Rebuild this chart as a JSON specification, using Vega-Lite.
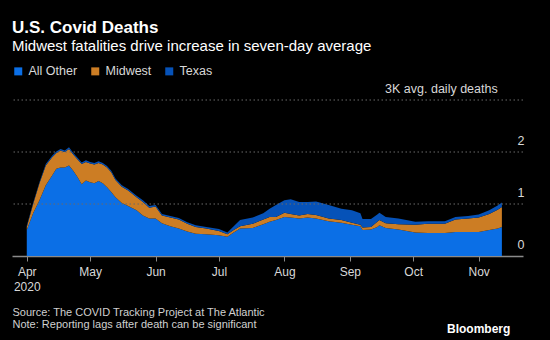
{
  "$schema": "https://vega.github.io/schema/vega-lite/v6.json",
  "width": 511,
  "height": 156,
  "autosize": {"type": "none"},
  "padding": {"left": 12, "top": 100, "right": 27, "bottom": 84},
  "background": "#000000",
  "config": {
    "view": {"stroke": null},
    "font": "Liberation Sans"
  },
  "title": {
    "text": "U.S. Covid Deaths",
    "subtitle": "Midwest fatalities drive increase in seven-day average",
    "anchor": "start",
    "frame": "group",
    "color": "#ffffff",
    "subtitleColor": "#ffffff",
    "fontSize": 17,
    "fontWeight": "bold",
    "subtitleFontSize": 15,
    "subtitlePadding": 2,
    "offset": 10
  },
  "data": {
    "values": [
      {"date": "2020-04-01", "All Other": 0.50, "Midwest": 0.06, "Texas": 0.02},
      {"date": "2020-04-04", "All Other": 0.82, "Midwest": 0.18, "Texas": 0.02},
      {"date": "2020-04-07", "All Other": 1.07, "Midwest": 0.33, "Texas": 0.02},
      {"date": "2020-04-10", "All Other": 1.36, "Midwest": 0.38, "Texas": 0.03},
      {"date": "2020-04-13", "All Other": 1.55, "Midwest": 0.35, "Texas": 0.03},
      {"date": "2020-04-15", "All Other": 1.68, "Midwest": 0.30, "Texas": 0.03},
      {"date": "2020-04-17", "All Other": 1.70, "Midwest": 0.33, "Texas": 0.03},
      {"date": "2020-04-19", "All Other": 1.70, "Midwest": 0.30, "Texas": 0.03},
      {"date": "2020-04-21", "All Other": 1.74, "Midwest": 0.32, "Texas": 0.03},
      {"date": "2020-04-23", "All Other": 1.64, "Midwest": 0.31, "Texas": 0.03},
      {"date": "2020-04-25", "All Other": 1.52, "Midwest": 0.34, "Texas": 0.03},
      {"date": "2020-04-27", "All Other": 1.38, "Midwest": 0.39, "Texas": 0.03},
      {"date": "2020-04-29", "All Other": 1.45, "Midwest": 0.36, "Texas": 0.03},
      {"date": "2020-05-01", "All Other": 1.42, "Midwest": 0.36, "Texas": 0.03},
      {"date": "2020-05-03", "All Other": 1.40, "Midwest": 0.36, "Texas": 0.03},
      {"date": "2020-05-05", "All Other": 1.44, "Midwest": 0.35, "Texas": 0.03},
      {"date": "2020-05-07", "All Other": 1.40, "Midwest": 0.36, "Texas": 0.03},
      {"date": "2020-05-09", "All Other": 1.32, "Midwest": 0.38, "Texas": 0.03},
      {"date": "2020-05-11", "All Other": 1.23, "Midwest": 0.38, "Texas": 0.03},
      {"date": "2020-05-13", "All Other": 1.13, "Midwest": 0.33, "Texas": 0.03},
      {"date": "2020-05-16", "All Other": 1.02, "Midwest": 0.31, "Texas": 0.03},
      {"date": "2020-05-19", "All Other": 0.96, "Midwest": 0.30, "Texas": 0.03},
      {"date": "2020-05-23", "All Other": 0.88, "Midwest": 0.25, "Texas": 0.03},
      {"date": "2020-05-26", "All Other": 0.78, "Midwest": 0.26, "Texas": 0.03},
      {"date": "2020-05-29", "All Other": 0.72, "Midwest": 0.21, "Texas": 0.03},
      {"date": "2020-06-01", "All Other": 0.72, "Midwest": 0.23, "Texas": 0.03},
      {"date": "2020-06-04", "All Other": 0.63, "Midwest": 0.15, "Texas": 0.03},
      {"date": "2020-06-08", "All Other": 0.57, "Midwest": 0.17, "Texas": 0.03},
      {"date": "2020-06-12", "All Other": 0.53, "Midwest": 0.17, "Texas": 0.03},
      {"date": "2020-06-16", "All Other": 0.47, "Midwest": 0.15, "Texas": 0.03},
      {"date": "2020-06-20", "All Other": 0.43, "Midwest": 0.13, "Texas": 0.03},
      {"date": "2020-06-25", "All Other": 0.42, "Midwest": 0.11, "Texas": 0.03},
      {"date": "2020-07-01", "All Other": 0.40, "Midwest": 0.08, "Texas": 0.04},
      {"date": "2020-07-05", "All Other": 0.37, "Midwest": 0.05, "Texas": 0.03},
      {"date": "2020-07-08", "All Other": 0.45, "Midwest": 0.05, "Texas": 0.07},
      {"date": "2020-07-11", "All Other": 0.53, "Midwest": 0.04, "Texas": 0.12},
      {"date": "2020-07-17", "All Other": 0.54, "Midwest": 0.08, "Texas": 0.12},
      {"date": "2020-07-22", "All Other": 0.61, "Midwest": 0.09, "Texas": 0.12},
      {"date": "2020-07-25", "All Other": 0.66, "Midwest": 0.09, "Texas": 0.16},
      {"date": "2020-07-28", "All Other": 0.69, "Midwest": 0.06, "Texas": 0.23},
      {"date": "2020-08-01", "All Other": 0.75, "Midwest": 0.08, "Texas": 0.24},
      {"date": "2020-08-04", "All Other": 0.74, "Midwest": 0.07, "Texas": 0.28},
      {"date": "2020-08-08", "All Other": 0.72, "Midwest": 0.06, "Texas": 0.26},
      {"date": "2020-08-12", "All Other": 0.74, "Midwest": 0.07, "Texas": 0.23},
      {"date": "2020-08-16", "All Other": 0.72, "Midwest": 0.07, "Texas": 0.26},
      {"date": "2020-08-22", "All Other": 0.67, "Midwest": 0.05, "Texas": 0.26},
      {"date": "2020-08-28", "All Other": 0.64, "Midwest": 0.05, "Texas": 0.22},
      {"date": "2020-09-02", "All Other": 0.60, "Midwest": 0.04, "Texas": 0.24},
      {"date": "2020-09-06", "All Other": 0.57, "Midwest": 0.03, "Texas": 0.22},
      {"date": "2020-09-07", "All Other": 0.50, "Midwest": 0.05, "Texas": 0.16},
      {"date": "2020-09-11", "All Other": 0.51, "Midwest": 0.05, "Texas": 0.15},
      {"date": "2020-09-14", "All Other": 0.56, "Midwest": 0.10, "Texas": 0.14},
      {"date": "2020-09-15", "All Other": 0.59, "Midwest": 0.10, "Texas": 0.14},
      {"date": "2020-09-18", "All Other": 0.54, "Midwest": 0.09, "Texas": 0.12},
      {"date": "2020-09-24", "All Other": 0.51, "Midwest": 0.10, "Texas": 0.11},
      {"date": "2020-10-02", "All Other": 0.45, "Midwest": 0.15, "Texas": 0.06},
      {"date": "2020-10-08", "All Other": 0.44, "Midwest": 0.18, "Texas": 0.05},
      {"date": "2020-10-16", "All Other": 0.44, "Midwest": 0.18, "Texas": 0.05},
      {"date": "2020-10-21", "All Other": 0.46, "Midwest": 0.24, "Texas": 0.05},
      {"date": "2020-10-27", "All Other": 0.46, "Midwest": 0.26, "Texas": 0.05},
      {"date": "2020-11-01", "All Other": 0.46, "Midwest": 0.28, "Texas": 0.06},
      {"date": "2020-11-06", "All Other": 0.50, "Midwest": 0.31, "Texas": 0.07},
      {"date": "2020-11-10", "All Other": 0.53, "Midwest": 0.36, "Texas": 0.08},
      {"date": "2020-11-12", "All Other": 0.56, "Midwest": 0.38, "Texas": 0.09}
    ]
  },
  "layer": [
    {
      "transform": [{"fold": ["All Other", "Midwest", "Texas"], "as": ["region", "deaths"]}],
      "mark": {"type": "area", "interpolate": "linear"},
      "encoding": {
        "x": {
          "field": "date",
          "type": "temporal",
          "scale": {"type": "utc", "domain": [{"year": 2020, "month": 3, "date": 25, "utc": true}, {"year": 2020, "month": 11, "date": 22, "utc": true}]},
          "axis": {
            "title": ["Source: The COVID Tracking Project at The Atlantic", "Note: Reporting lags after death can be significant"],
            "titleColor": "#d0d0d0",
            "titleFontSize": 11,
            "titleFontWeight": "normal",
            "titleAnchor": "start",
            "titleAlign": "left",
            "titleBaseline": "top",
            "titleX": 0,
            "titleY": 50,
            "titleLineHeight": 12,
            "tickCount": {"interval": "month", "step": 1},
            "labelExpr": "utcFormat(datum.value, '%b') == 'Apr' ? ['Apr', '2020'] : utcFormat(datum.value, '%b')",
            "labelColor": "#d8d8d8",
            "labelFontSize": 12,
            "labelPadding": 5,
            "labelLineHeight": 15,
            "grid": false,
            "domainColor": "#8a8a8a",
            "domainWidth": 1.5,
            "tickColor": "#8a8a8a",
            "tickSize": 5,
            "tickWidth": 1
          }
        },
        "y": {
          "field": "deaths",
          "type": "quantitative",
          "stack": "zero",
          "scale": {"domain": [0, 3]},
          "axis": {
            "orient": "right",
            "title": null,
            "values": [0, 1, 2],
            "labelAlign": "right",
            "labelBaseline": "middle",
            "labelOffset": -12,
            "labelPadding": 1,
            "labelColor": "#d8d8d8",
            "labelFontSize": 12.5,
            "ticks": false,
            "domain": false,
            "grid": false
          }
        },
        "order": {"field": "region", "sort": "ascending"},
        "color": {
          "field": "region",
          "type": "nominal",
          "scale": {"domain": ["All Other", "Midwest", "Texas"], "range": ["#0b6fe6", "#cc7d24", "#0652b8"]},
          "legend": {
            "title": null,
            "orient": "none",
            "legendX": 0,
            "legendY": -35,
            "direction": "horizontal",
            "symbolType": "square",
            "symbolSize": 64,
            "symbolStrokeWidth": 0,
            "labelColor": "#d8d8d8",
            "labelFontSize": 12.5,
            "labelOffset": 4,
            "columnPadding": 11
          }
        }
      }
    },
    {
      "mark": {"type": "rule", "stroke": "#6a6a6a", "strokeDash": [1.5, 2.5], "strokeWidth": 1},
      "data": {"values": [{"v": 1}, {"v": 2}, {"v": 3}]},
      "encoding": {
        "y": {"field": "v", "type": "quantitative"}
      }
    },
    {
      "data": {"values": [{"label": "3K avg. daily deaths"}]},
      "mark": {"type": "text", "align": "right", "baseline": "middle", "dy": -11, "fontSize": 12.5, "color": "#d8d8d8"},
      "encoding": {
        "x": {"datum": {"year": 2020, "month": 11, "date": 10, "utc": true}, "type": "temporal"},
        "y": {"datum": 3, "type": "quantitative"},
        "text": {"field": "label"}
      }
    },
    {
      "data": {"values": [{"label": "Bloomberg"}]},
      "mark": {"type": "text", "align": "right", "baseline": "middle", "fontSize": 12, "fontWeight": "bold", "color": "#ffffff"},
      "encoding": {
        "x": {"datum": {"year": 2020, "month": 11, "date": 16, "utc": true}, "type": "temporal"},
        "y": {"datum": -1.4, "type": "quantitative"},
        "text": {"field": "label"}
      }
    }
  ]
}
